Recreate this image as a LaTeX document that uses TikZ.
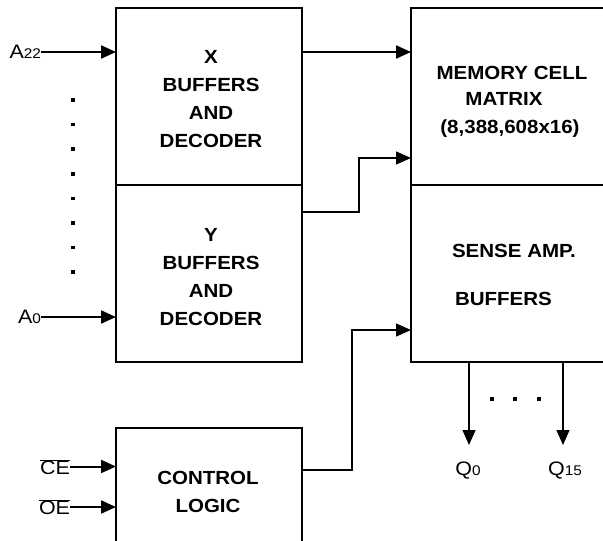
\documentclass[tikz,border=0pt]{standalone}
\usepackage{fontspec}
\setmainfont{Liberation Sans}
\usetikzlibrary{arrows.meta}
\begin{document}
\begin{tikzpicture}[x=1pt,y=-1pt,
  every node/.style={inner sep=0pt,outer sep=0pt},
  boxtxt/.style={font=\fontsize{19}{28}\selectfont\bfseries,align=center,xscale=1.08},
  sig/.style={font=\fontsize{19.5}{24}\selectfont,xscale=1.1},
  blk/.style={draw=none,minimum width=186pt},
  arrthick/.style={line width=2pt,-{Triangle[length=15pt,width=13pt]}},
  arrthin/.style={line width=1.2pt,-{Triangle[length=15pt,width=13pt]}},
  thickline/.style={line width=2.6pt},
  divline/.style={line width=1.2pt},
  dotmark/.style={fill=black,minimum size=3.5pt,inner sep=0pt}
]
\useasboundingbox (0,0) rectangle (603,541);
\clip (0,0) rectangle (603,541);
\fill[white] (0,0) rectangle (603,541);

% left blocks
\node[blk,minimum height=177pt] (xdec) at (209,96.5) {};
\node[blk,minimum height=177pt] (ydec) at (209,273.5) {};
\draw[thickline] (xdec.north west) rectangle (ydec.south east);
\draw[divline] (xdec.south west) -- (xdec.south east);
\node[boxtxt] (xt) at (211,99.5) {X\\BUFFERS\\AND\\DECODER};
\node[boxtxt] (yt) at (211,277) {Y\\BUFFERS\\AND\\DECODER};

% control block
\node[blk,minimum height=130pt,anchor=north] (ctl) at (209,428) {};
\draw[thickline] (ctl.south west) -- (ctl.north west) -- (ctl.north east) -- (ctl.south east);
\node[boxtxt] (ct) at (208,491.5) {CONTROL\\LOGIC};

% right blocks
\node[draw=none,minimum width=200pt,minimum height=177pt,anchor=north west] (mem) at (411,8) {};
\node[draw=none,minimum width=200pt,minimum height=177pt,anchor=north west] (sa) at (411,185) {};
\draw[thickline] (mem.north east) -- (mem.north west) -- (sa.south west) -- (sa.south east);
\draw[divline] (mem.south west) -- (mem.south east);
\node[boxtxt] (mt1) at (512,72.5) {MEMORY CELL};
\node[boxtxt] (mt2) at (504,99) {MATRIX};
\node[boxtxt] (mt3) at (510,129) {(8,388,608x16)};
\node[boxtxt,anchor=west] (st1) at (452,250.5) {SENSE AMP.};
\node[boxtxt,anchor=west] (st2) at (455,298.5) {BUFFERS};

% address inputs
\node[sig,anchor=east] (a22) at (41,52) {A{\fontsize{14}{14}\selectfont 22}};
\node[sig,anchor=east] (a0) at (41,317) {A{\fontsize{14}{14}\selectfont 0}};
\draw[arrthick] (a22.east) -- (a22.east -| xdec.west);
\draw[arrthick] (a0.east) -- (a0.east -| ydec.west);
\foreach \i/\yy in {1/100,2/124.6,3/149.2,4/173.8,5/198.4,6/223,7/247.6,8/272.2}
  \node[dotmark] (ad\i) at (73,\yy) {};

% control inputs
\node[sig,anchor=east] (ce) at (70,467) {$\overline{\mbox{CE}}$};
\node[sig,anchor=east] (oe) at (70,507) {$\overline{\mbox{OE}}$};
\coordinate (cep) at (70,466.5);
\coordinate (oep) at (70,507);
\draw[arrthick] (cep) -- (cep -| ctl.west);
\draw[arrthick] (oep) -- (oep -| ctl.west);

% X -> memory
\coordinate (xo) at (302,52);
\draw[arrthick] (xo) -- (xo -| mem.west);

% Y -> memory
\coordinate (yo) at (302,212);
\coordinate (yb) at (359,158);
\draw[arrthin] (yo) -| (yb) -- (yb -| mem.west);

% control -> sense amp
\coordinate (co) at (302,470);
\coordinate (cb) at (352,330);
\draw[arrthin] (co) -| (cb) -- (cb -| sa.west);

% outputs
\coordinate (q0s) at (469,362);
\coordinate (q15s) at (563,362);
\coordinate (q0e) at (469,445);
\coordinate (q15e) at (563,445);
\draw[arrthin] (q0s) -- (q0e);
\draw[arrthin] (q15s) -- (q15e);
\node[sig] (q0) at (468,471) {Q{\fontsize{14}{14}\selectfont 0}};
\node[sig] (q15) at (565,471) {Q{\fontsize{14}{14}\selectfont 15}};
\foreach \i/\xx in {1/492,2/515,3/539}
  \node[dotmark] (od\i) at (\xx,399) {};
\end{tikzpicture}
\end{document}
